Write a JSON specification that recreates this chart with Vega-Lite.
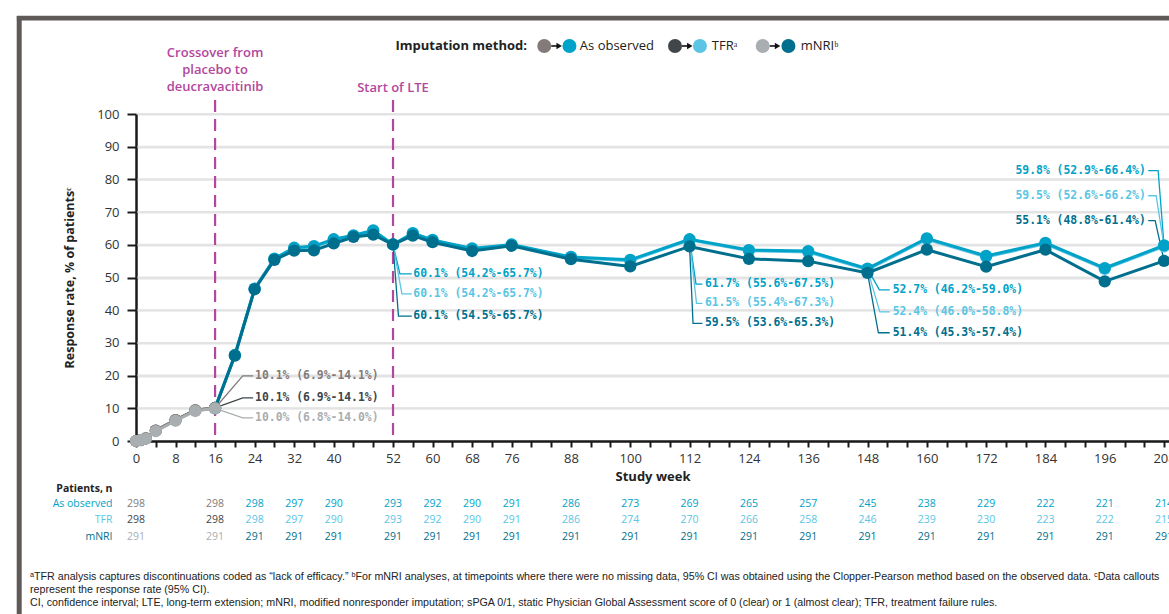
{
  "$schema": "https://vega.github.io/schema/vega-lite/v6.json",
  "width": 1033,
  "height": 327,
  "autosize": "none",
  "padding": {"left": 136, "top": 114, "right": 0, "bottom": 173},
  "config": {
    "font": "Open Sans",
    "view": {"stroke": null},
    "axisX": {"grid": false, "labelFlush": false, "labelOverlap": false, "labelBound": false, "tickSize": 6, "tickWidth": 2, "tickColor": "#1a1a1a", "domainColor": "#1a1a1a", "domainWidth": 2.5, "labelFontSize": 13, "labelColor": "#333333", "labelPadding": 5, "titleFontSize": 13, "titleFontWeight": "bold", "titleColor": "#222222", "titlePadding": 5},
    "axisY": {"grid": true, "gridColor": "#e3e3e3", "gridWidth": 2, "labelOverlap": false, "labelBound": false, "labelFlush": false, "tickSize": 9, "tickWidth": 2, "tickColor": "#1a1a1a", "domainColor": "#1a1a1a", "domainWidth": 2.5, "labelFontSize": 13, "labelColor": "#333333", "labelPadding": 8, "titleFontSize": 12.5, "titleFontWeight": "bold", "titleColor": "#222222", "titlePadding": 20}
  },
  "datasets": {
    "gridlines": [{"rate": 10}, {"rate": 20}, {"rate": 30}, {"rate": 40}, {"rate": 50}, {"rate": 60}, {"rate": 70}, {"rate": 80}, {"rate": 90}, {"rate": 100}],
    "series": [
      {"week": 0, "rate": 0, "key": "AO-pbo"}, {"week": 1, "rate": 0.3, "key": "AO-pbo"}, {"week": 2, "rate": 0.8, "key": "AO-pbo"}, {"week": 4, "rate": 3.2, "key": "AO-pbo"}, {"week": 8, "rate": 6.4, "key": "AO-pbo"}, {"week": 12, "rate": 9.4, "key": "AO-pbo"}, {"week": 16, "rate": 10.1, "key": "AO-pbo"},
      {"week": 0, "rate": 0, "key": "TFR-pbo"}, {"week": 1, "rate": 0.3, "key": "TFR-pbo"}, {"week": 2, "rate": 0.8, "key": "TFR-pbo"}, {"week": 4, "rate": 3.2, "key": "TFR-pbo"}, {"week": 8, "rate": 6.4, "key": "TFR-pbo"}, {"week": 12, "rate": 9.4, "key": "TFR-pbo"}, {"week": 16, "rate": 10.1, "key": "TFR-pbo"},
      {"week": 0, "rate": 0, "key": "mNRI-pbo"}, {"week": 1, "rate": 0.3, "key": "mNRI-pbo"}, {"week": 2, "rate": 0.7, "key": "mNRI-pbo"}, {"week": 4, "rate": 3.0, "key": "mNRI-pbo"}, {"week": 8, "rate": 6.2, "key": "mNRI-pbo"}, {"week": 12, "rate": 9.2, "key": "mNRI-pbo"}, {"week": 16, "rate": 10.0, "key": "mNRI-pbo"},
      {"week": 16, "rate": 10.1, "key": "AO"}, {"week": 20, "rate": 26.3, "key": "AO"}, {"week": 24, "rate": 46.6, "key": "AO"}, {"week": 28, "rate": 55.8, "key": "AO"}, {"week": 32, "rate": 59.1, "key": "AO"}, {"week": 36, "rate": 59.6, "key": "AO"}, {"week": 40, "rate": 61.7, "key": "AO"}, {"week": 44, "rate": 62.9, "key": "AO"}, {"week": 48, "rate": 64.4, "key": "AO"}, {"week": 52, "rate": 60.1, "key": "AO"}, {"week": 56, "rate": 63.6, "key": "AO"}, {"week": 60, "rate": 61.5, "key": "AO"}, {"week": 68, "rate": 58.9, "key": "AO"}, {"week": 76, "rate": 60.1, "key": "AO"}, {"week": 88, "rate": 56.3, "key": "AO"}, {"week": 100, "rate": 55.4, "key": "AO"}, {"week": 112, "rate": 61.7, "key": "AO"}, {"week": 124, "rate": 58.4, "key": "AO"}, {"week": 136, "rate": 58.1, "key": "AO"}, {"week": 148, "rate": 52.7, "key": "AO"}, {"week": 160, "rate": 62.0, "key": "AO"}, {"week": 172, "rate": 56.6, "key": "AO"}, {"week": 184, "rate": 60.6, "key": "AO"}, {"week": 196, "rate": 52.9, "key": "AO"}, {"week": 208, "rate": 59.8, "key": "AO"},
      {"week": 16, "rate": 10.1, "key": "TFR"}, {"week": 20, "rate": 26.2, "key": "TFR"}, {"week": 24, "rate": 46.5, "key": "TFR"}, {"week": 28, "rate": 55.6, "key": "TFR"}, {"week": 32, "rate": 58.9, "key": "TFR"}, {"week": 36, "rate": 59.4, "key": "TFR"}, {"week": 40, "rate": 61.5, "key": "TFR"}, {"week": 44, "rate": 62.7, "key": "TFR"}, {"week": 48, "rate": 64.2, "key": "TFR"}, {"week": 52, "rate": 60.1, "key": "TFR"}, {"week": 56, "rate": 63.4, "key": "TFR"}, {"week": 60, "rate": 61.3, "key": "TFR"}, {"week": 68, "rate": 58.7, "key": "TFR"}, {"week": 76, "rate": 59.9, "key": "TFR"}, {"week": 88, "rate": 56.1, "key": "TFR"}, {"week": 100, "rate": 55.1, "key": "TFR"}, {"week": 112, "rate": 61.5, "key": "TFR"}, {"week": 124, "rate": 58.2, "key": "TFR"}, {"week": 136, "rate": 57.8, "key": "TFR"}, {"week": 148, "rate": 52.4, "key": "TFR"}, {"week": 160, "rate": 61.7, "key": "TFR"}, {"week": 172, "rate": 56.3, "key": "TFR"}, {"week": 184, "rate": 60.3, "key": "TFR"}, {"week": 196, "rate": 52.6, "key": "TFR"}, {"week": 208, "rate": 59.5, "key": "TFR"},
      {"week": 16, "rate": 10.0, "key": "mNRI"}, {"week": 20, "rate": 26.1, "key": "mNRI"}, {"week": 24, "rate": 46.4, "key": "mNRI"}, {"week": 28, "rate": 55.4, "key": "mNRI"}, {"week": 32, "rate": 58.2, "key": "mNRI"}, {"week": 36, "rate": 58.3, "key": "mNRI"}, {"week": 40, "rate": 60.4, "key": "mNRI"}, {"week": 44, "rate": 62.4, "key": "mNRI"}, {"week": 48, "rate": 63.1, "key": "mNRI"}, {"week": 52, "rate": 60.1, "key": "mNRI"}, {"week": 56, "rate": 62.8, "key": "mNRI"}, {"week": 60, "rate": 60.8, "key": "mNRI"}, {"week": 68, "rate": 58.1, "key": "mNRI"}, {"week": 76, "rate": 59.7, "key": "mNRI"}, {"week": 88, "rate": 55.6, "key": "mNRI"}, {"week": 100, "rate": 53.4, "key": "mNRI"}, {"week": 112, "rate": 59.5, "key": "mNRI"}, {"week": 124, "rate": 55.7, "key": "mNRI"}, {"week": 136, "rate": 55.0, "key": "mNRI"}, {"week": 148, "rate": 51.4, "key": "mNRI"}, {"week": 160, "rate": 58.5, "key": "mNRI"}, {"week": 172, "rate": 53.3, "key": "mNRI"}, {"week": 184, "rate": 58.5, "key": "mNRI"}, {"week": 196, "rate": 48.8, "key": "mNRI"}, {"week": 208, "rate": 55.1, "key": "mNRI"}
    ],
    "leaders": [
      {"id": "c16a", "ord": 0, "week": 16, "rate": 10.1, "key": "AO-pbo"}, {"id": "c16a", "ord": 1, "week": 21.6, "rate": 19.9, "key": "AO-pbo"}, {"id": "c16a", "ord": 2, "week": 23.7, "rate": 19.9, "key": "AO-pbo"},
      {"id": "c16t", "ord": 0, "week": 16, "rate": 10.1, "key": "TFR-pbo"}, {"id": "c16t", "ord": 1, "week": 21.6, "rate": 13.2, "key": "TFR-pbo"}, {"id": "c16t", "ord": 2, "week": 23.7, "rate": 13.2, "key": "TFR-pbo"},
      {"id": "c16m", "ord": 0, "week": 16, "rate": 10.0, "key": "mNRI-pbo"}, {"id": "c16m", "ord": 1, "week": 21.6, "rate": 7.1, "key": "mNRI-pbo"}, {"id": "c16m", "ord": 2, "week": 23.7, "rate": 7.1, "key": "mNRI-pbo"},
      {"id": "c52a", "ord": 0, "week": 52, "rate": 60.1, "key": "AO"}, {"id": "c52a", "ord": 1, "week": 53.4, "rate": 51.1, "key": "AO"}, {"id": "c52a", "ord": 2, "week": 55.8, "rate": 51.1, "key": "AO"},
      {"id": "c52t", "ord": 0, "week": 52, "rate": 60.1, "key": "TFR"}, {"id": "c52t", "ord": 1, "week": 53.8, "rate": 45.0, "key": "TFR"}, {"id": "c52t", "ord": 2, "week": 55.8, "rate": 45.0, "key": "TFR"},
      {"id": "c52m", "ord": 0, "week": 52, "rate": 60.1, "key": "mNRI"}, {"id": "c52m", "ord": 1, "week": 53.1, "rate": 38.2, "key": "mNRI"}, {"id": "c52m", "ord": 2, "week": 55.8, "rate": 38.2, "key": "mNRI"},
      {"id": "c112a", "ord": 0, "week": 112, "rate": 61.7, "key": "AO"}, {"id": "c112a", "ord": 1, "week": 113.3, "rate": 48.0, "key": "AO"}, {"id": "c112a", "ord": 2, "week": 114.6, "rate": 48.0, "key": "AO"},
      {"id": "c112t", "ord": 0, "week": 112, "rate": 61.5, "key": "TFR"}, {"id": "c112t", "ord": 1, "week": 113.4, "rate": 42.1, "key": "TFR"}, {"id": "c112t", "ord": 2, "week": 114.6, "rate": 42.1, "key": "TFR"},
      {"id": "c112m", "ord": 0, "week": 112, "rate": 59.5, "key": "mNRI"}, {"id": "c112m", "ord": 1, "week": 112.7, "rate": 36.0, "key": "mNRI"}, {"id": "c112m", "ord": 2, "week": 114.6, "rate": 36.0, "key": "mNRI"},
      {"id": "c148a", "ord": 0, "week": 148, "rate": 52.7, "key": "AO"}, {"id": "c148a", "ord": 1, "week": 150.4, "rate": 46.2, "key": "AO"}, {"id": "c148a", "ord": 2, "week": 152.5, "rate": 46.2, "key": "AO"},
      {"id": "c148t", "ord": 0, "week": 148, "rate": 52.4, "key": "TFR"}, {"id": "c148t", "ord": 1, "week": 150.5, "rate": 39.5, "key": "TFR"}, {"id": "c148t", "ord": 2, "week": 152.5, "rate": 39.5, "key": "TFR"},
      {"id": "c148m", "ord": 0, "week": 148, "rate": 51.4, "key": "mNRI"}, {"id": "c148m", "ord": 1, "week": 150.2, "rate": 33.1, "key": "mNRI"}, {"id": "c148m", "ord": 2, "week": 152.5, "rate": 33.1, "key": "mNRI"},
      {"id": "c208a", "ord": 0, "week": 204.8, "rate": 82.7, "key": "AO"}, {"id": "c208a", "ord": 1, "week": 206.8, "rate": 82.7, "key": "AO"}, {"id": "c208a", "ord": 2, "week": 208, "rate": 59.8, "key": "AO"},
      {"id": "c208t", "ord": 0, "week": 204.8, "rate": 75.0, "key": "TFR"}, {"id": "c208t", "ord": 1, "week": 206.4, "rate": 75.0, "key": "TFR"}, {"id": "c208t", "ord": 2, "week": 208, "rate": 59.5, "key": "TFR"},
      {"id": "c208m", "ord": 0, "week": 204.8, "rate": 67.4, "key": "mNRI"}, {"id": "c208m", "ord": 1, "week": 206.2, "rate": 67.4, "key": "mNRI"}, {"id": "c208m", "ord": 2, "week": 208, "rate": 55.1, "key": "mNRI"}
    ],
    "callouts": [
      {"week": 24.1, "rate": 19.9, "label": "10.1% (6.9%-14.1%)", "key": "AO-pbo", "side": "L"},
      {"week": 24.1, "rate": 13.2, "label": "10.1% (6.9%-14.1%)", "key": "TFR-pbo", "side": "L"},
      {"week": 24.1, "rate": 7.1, "label": "10.0% (6.8%-14.0%)", "key": "mNRI-pbo", "side": "L"},
      {"week": 56.1, "rate": 51.1, "label": "60.1% (54.2%-65.7%)", "key": "AO", "side": "L"},
      {"week": 56.1, "rate": 45.0, "label": "60.1% (54.2%-65.7%)", "key": "TFR", "side": "L"},
      {"week": 56.1, "rate": 38.2, "label": "60.1% (54.5%-65.7%)", "key": "mNRI", "side": "L"},
      {"week": 115.1, "rate": 48.0, "label": "61.7% (55.6%-67.5%)", "key": "AO", "side": "L"},
      {"week": 115.1, "rate": 42.1, "label": "61.5% (55.4%-67.3%)", "key": "TFR", "side": "L"},
      {"week": 115.1, "rate": 36.0, "label": "59.5% (53.6%-65.3%)", "key": "mNRI", "side": "L"},
      {"week": 153.1, "rate": 46.2, "label": "52.7% (46.2%-59.0%)", "key": "AO", "side": "L"},
      {"week": 153.1, "rate": 39.5, "label": "52.4% (46.0%-58.8%)", "key": "TFR", "side": "L"},
      {"week": 153.1, "rate": 33.1, "label": "51.4% (45.3%-57.4%)", "key": "mNRI", "side": "L"},
      {"week": 204.3, "rate": 82.7, "label": "59.8% (52.9%-66.4%)", "key": "AO", "side": "R"},
      {"week": 204.3, "rate": 75.0, "label": "59.5% (52.6%-66.2%)", "key": "TFR", "side": "R"},
      {"week": 204.3, "rate": 67.4, "label": "55.1% (48.8%-61.4%)", "key": "mNRI", "side": "R"}
    ],
    "phases": [{"week": 16}, {"week": 52}],
    "legendDots": [
      {"week": 82.6, "key": "AO-pbo"}, {"week": 87.7, "key": "AO"},
      {"week": 109.05, "key": "TFR-pbo"}, {"week": 114.1, "key": "TFR"},
      {"week": 126.8, "key": "mNRI-pbo"}, {"week": 132.0, "key": "mNRI"}
    ],
    "legendArrows": [
      {"x0": 84.0, "x1": 85.2, "xh": 85.62},
      {"x0": 110.45, "x1": 111.6, "xh": 112.05},
      {"x0": 128.2, "x1": 129.35, "xh": 129.8}
    ],
    "legendText": [
      {"week": 89.8, "label": "As observed"},
      {"week": 116.5, "label": "TFRᵃ"},
      {"week": 134.5, "label": "mNRIᵇ"}
    ],
    "table": [
      {"week": 0, "method": "AO", "n": 298, "key": "AO-pbo"}, {"week": 16, "method": "AO", "n": 298, "key": "AO-pbo"}, {"week": 24, "method": "AO", "n": 298, "key": "AO"}, {"week": 32, "method": "AO", "n": 297, "key": "AO"}, {"week": 40, "method": "AO", "n": 290, "key": "AO"}, {"week": 52, "method": "AO", "n": 293, "key": "AO"}, {"week": 60, "method": "AO", "n": 292, "key": "AO"}, {"week": 68, "method": "AO", "n": 290, "key": "AO"}, {"week": 76, "method": "AO", "n": 291, "key": "AO"}, {"week": 88, "method": "AO", "n": 286, "key": "AO"}, {"week": 100, "method": "AO", "n": 273, "key": "AO"}, {"week": 112, "method": "AO", "n": 269, "key": "AO"}, {"week": 124, "method": "AO", "n": 265, "key": "AO"}, {"week": 136, "method": "AO", "n": 257, "key": "AO"}, {"week": 148, "method": "AO", "n": 245, "key": "AO"}, {"week": 160, "method": "AO", "n": 238, "key": "AO"}, {"week": 172, "method": "AO", "n": 229, "key": "AO"}, {"week": 184, "method": "AO", "n": 222, "key": "AO"}, {"week": 196, "method": "AO", "n": 221, "key": "AO"}, {"week": 208, "method": "AO", "n": 214, "key": "AO"},
      {"week": 0, "method": "TFR", "n": 298, "key": "TFR-pbo"}, {"week": 16, "method": "TFR", "n": 298, "key": "TFR-pbo"}, {"week": 24, "method": "TFR", "n": 298, "key": "TFR"}, {"week": 32, "method": "TFR", "n": 297, "key": "TFR"}, {"week": 40, "method": "TFR", "n": 290, "key": "TFR"}, {"week": 52, "method": "TFR", "n": 293, "key": "TFR"}, {"week": 60, "method": "TFR", "n": 292, "key": "TFR"}, {"week": 68, "method": "TFR", "n": 290, "key": "TFR"}, {"week": 76, "method": "TFR", "n": 291, "key": "TFR"}, {"week": 88, "method": "TFR", "n": 286, "key": "TFR"}, {"week": 100, "method": "TFR", "n": 274, "key": "TFR"}, {"week": 112, "method": "TFR", "n": 270, "key": "TFR"}, {"week": 124, "method": "TFR", "n": 266, "key": "TFR"}, {"week": 136, "method": "TFR", "n": 258, "key": "TFR"}, {"week": 148, "method": "TFR", "n": 246, "key": "TFR"}, {"week": 160, "method": "TFR", "n": 239, "key": "TFR"}, {"week": 172, "method": "TFR", "n": 230, "key": "TFR"}, {"week": 184, "method": "TFR", "n": 223, "key": "TFR"}, {"week": 196, "method": "TFR", "n": 222, "key": "TFR"}, {"week": 208, "method": "TFR", "n": 215, "key": "TFR"},
      {"week": 0, "method": "mNRI", "n": 291, "key": "mNRI-pbo"}, {"week": 16, "method": "mNRI", "n": 291, "key": "mNRI-pbo"}, {"week": 24, "method": "mNRI", "n": 291, "key": "mNRI"}, {"week": 32, "method": "mNRI", "n": 291, "key": "mNRI"}, {"week": 40, "method": "mNRI", "n": 291, "key": "mNRI"}, {"week": 52, "method": "mNRI", "n": 291, "key": "mNRI"}, {"week": 60, "method": "mNRI", "n": 291, "key": "mNRI"}, {"week": 68, "method": "mNRI", "n": 291, "key": "mNRI"}, {"week": 76, "method": "mNRI", "n": 291, "key": "mNRI"}, {"week": 88, "method": "mNRI", "n": 291, "key": "mNRI"}, {"week": 100, "method": "mNRI", "n": 291, "key": "mNRI"}, {"week": 112, "method": "mNRI", "n": 291, "key": "mNRI"}, {"week": 124, "method": "mNRI", "n": 291, "key": "mNRI"}, {"week": 136, "method": "mNRI", "n": 291, "key": "mNRI"}, {"week": 148, "method": "mNRI", "n": 291, "key": "mNRI"}, {"week": 160, "method": "mNRI", "n": 291, "key": "mNRI"}, {"week": 172, "method": "mNRI", "n": 291, "key": "mNRI"}, {"week": 184, "method": "mNRI", "n": 291, "key": "mNRI"}, {"week": 196, "method": "mNRI", "n": 291, "key": "mNRI"}, {"week": 208, "method": "mNRI", "n": 291, "key": "mNRI"}
    ]
  },
  "layer": [
    {"data": {"values": [{}]}, "mark": {"type": "rule", "color": "#5f5957", "strokeWidth": 5},
     "encoding": {"x": {"datum": -23.63, "type": "quantitative", "scale": {"domain": [0, 209], "nice": false, "zero": false}, "axis": {"title": "Study week", "grid": false, "values": [0,4,8,12,16,20,24,28,32,36,40,44,48,52,56,60,64,68,72,76,80,84,88,92,96,100,104,108,112,116,120,124,128,132,136,140,144,148,152,156,160,164,168,172,176,180,184,188,192,196,200,204,208], "labelExpr": "indexof([0,8,16,24,32,40,52,60,68,76,88,100,112,124,136,148,160,172,184,196,208], datum.value) >= 0 ? datum.label : ''"}},
       "y": {"datum": 130.0, "type": "quantitative", "scale": {"domain": [0, 100], "nice": false, "zero": false}, "axis": {"title": "Response rate, % of patientsᶜ", "grid": true, "values": [0,10,20,30,40,50,60,70,80,90,100]}}, "y2": {"datum": -60}}},
    {"data": {"values": [{}]}, "mark": {"type": "rule", "color": "#5f5957", "strokeWidth": 4.7},
     "encoding": {"x": {"datum": -24.1, "type": "quantitative", "axis": {"title": "Study week", "grid": false, "values": [0,4,8,12,16,20,24,28,32,36,40,44,48,52,56,60,64,68,72,76,80,84,88,92,96,100,104,108,112,116,120,124,128,132,136,140,144,148,152,156,160,164,168,172,176,180,184,188,192,196,200,204,208], "labelExpr": "indexof([0,8,16,24,32,40,52,60,68,76,88,100,112,124,136,148,160,172,184,196,208], datum.value) >= 0 ? datum.label : ''"}}, "x2": {"datum": 215},
       "y": {"datum": 129.3, "type": "quantitative", "axis": {"title": "Response rate, % of patientsᶜ", "grid": true, "values": [0,10,20,30,40,50,60,70,80,90,100]}}}},
    {"data": {"name": "gridlines"}, "mark": {"type": "rule", "color": "#e3e3e3", "strokeWidth": 2},
     "encoding": {"x": {"datum": 0.3, "type": "quantitative", "axis": {"title": "Study week", "grid": false, "values": [0,4,8,12,16,20,24,28,32,36,40,44,48,52,56,60,64,68,72,76,80,84,88,92,96,100,104,108,112,116,120,124,128,132,136,140,144,148,152,156,160,164,168,172,176,180,184,188,192,196,200,204,208], "labelExpr": "indexof([0,8,16,24,32,40,52,60,68,76,88,100,112,124,136,148,160,172,184,196,208], datum.value) >= 0 ? datum.label : ''"}}, "x2": {"datum": 209},
       "y": {"field": "rate", "type": "quantitative", "axis": {"title": "Response rate, % of patientsᶜ", "grid": true, "values": [0,10,20,30,40,50,60,70,80,90,100]}}}},
    {"data": {"name": "phases"}, "mark": {"type": "rule", "color": "#b2479d", "strokeWidth": 2.2, "strokeDash": [12, 7]},
     "encoding": {"x": {"field": "week", "type": "quantitative", "axis": {"title": "Study week", "grid": false, "values": [0,4,8,12,16,20,24,28,32,36,40,44,48,52,56,60,64,68,72,76,80,84,88,92,96,100,104,108,112,116,120,124,128,132,136,140,144,148,152,156,160,164,168,172,176,180,184,188,192,196,200,204,208], "labelExpr": "indexof([0,8,16,24,32,40,52,60,68,76,88,100,112,124,136,148,160,172,184,196,208], datum.value) >= 0 ? datum.label : ''"}},
       "y": {"datum": 104.3, "type": "quantitative", "axis": {"title": "Response rate, % of patientsᶜ", "grid": true, "values": [0,10,20,30,40,50,60,70,80,90,100]}}, "y2": {"datum": 0}}},
    {"data": {"name": "leaders"}, "mark": {"type": "line", "strokeWidth": 1.3},
     "encoding": {"x": {"field": "week", "type": "quantitative", "axis": {"title": "Study week", "grid": false, "values": [0,4,8,12,16,20,24,28,32,36,40,44,48,52,56,60,64,68,72,76,80,84,88,92,96,100,104,108,112,116,120,124,128,132,136,140,144,148,152,156,160,164,168,172,176,180,184,188,192,196,200,204,208], "labelExpr": "indexof([0,8,16,24,32,40,52,60,68,76,88,100,112,124,136,148,160,172,184,196,208], datum.value) >= 0 ? datum.label : ''"}},
       "y": {"field": "rate", "type": "quantitative", "axis": {"title": "Response rate, % of patientsᶜ", "grid": true, "values": [0,10,20,30,40,50,60,70,80,90,100]}}, "detail": {"field": "id"}, "order": {"field": "ord"},
       "color": {"field": "key", "type": "nominal", "legend": null, "scale": {"domain": ["AO-pbo", "TFR-pbo", "mNRI-pbo", "AO", "TFR", "mNRI"], "range": ["#827b79", "#40464a", "#a9aeb1", "#00a2c7", "#5bc5e3", "#006f8e"]}}}},
    {"data": {"name": "series"}, "transform": [{"filter": "datum.key === 'TFR'"}],
     "mark": {"type": "line", "strokeWidth": 3, "color": "#5bc5e3", "point": {"filled": true, "size": 150, "opacity": 1, "color": "#5bc5e3"}},
     "encoding": {"x": {"field": "week", "type": "quantitative", "axis": {"title": "Study week", "grid": false, "values": [0,4,8,12,16,20,24,28,32,36,40,44,48,52,56,60,64,68,72,76,80,84,88,92,96,100,104,108,112,116,120,124,128,132,136,140,144,148,152,156,160,164,168,172,176,180,184,188,192,196,200,204,208], "labelExpr": "indexof([0,8,16,24,32,40,52,60,68,76,88,100,112,124,136,148,160,172,184,196,208], datum.value) >= 0 ? datum.label : ''"}},
       "y": {"field": "rate", "type": "quantitative", "axis": {"title": "Response rate, % of patientsᶜ", "grid": true, "values": [0,10,20,30,40,50,60,70,80,90,100]}}}},
    {"data": {"name": "series"}, "transform": [{"filter": "datum.key === 'AO'"}],
     "mark": {"type": "line", "strokeWidth": 3, "color": "#00a2c7", "point": {"filled": true, "size": 150, "opacity": 1, "color": "#00a2c7"}},
     "encoding": {"x": {"field": "week", "type": "quantitative", "axis": {"title": "Study week", "grid": false, "values": [0,4,8,12,16,20,24,28,32,36,40,44,48,52,56,60,64,68,72,76,80,84,88,92,96,100,104,108,112,116,120,124,128,132,136,140,144,148,152,156,160,164,168,172,176,180,184,188,192,196,200,204,208], "labelExpr": "indexof([0,8,16,24,32,40,52,60,68,76,88,100,112,124,136,148,160,172,184,196,208], datum.value) >= 0 ? datum.label : ''"}},
       "y": {"field": "rate", "type": "quantitative", "axis": {"title": "Response rate, % of patientsᶜ", "grid": true, "values": [0,10,20,30,40,50,60,70,80,90,100]}}}},
    {"data": {"name": "series"}, "transform": [{"filter": "datum.key === 'mNRI'"}],
     "mark": {"type": "line", "strokeWidth": 3, "color": "#006f8e", "point": {"filled": true, "size": 150, "opacity": 1, "color": "#006f8e"}},
     "encoding": {"x": {"field": "week", "type": "quantitative", "axis": {"title": "Study week", "grid": false, "values": [0,4,8,12,16,20,24,28,32,36,40,44,48,52,56,60,64,68,72,76,80,84,88,92,96,100,104,108,112,116,120,124,128,132,136,140,144,148,152,156,160,164,168,172,176,180,184,188,192,196,200,204,208], "labelExpr": "indexof([0,8,16,24,32,40,52,60,68,76,88,100,112,124,136,148,160,172,184,196,208], datum.value) >= 0 ? datum.label : ''"}},
       "y": {"field": "rate", "type": "quantitative", "axis": {"title": "Response rate, % of patientsᶜ", "grid": true, "values": [0,10,20,30,40,50,60,70,80,90,100]}}}},
    {"data": {"name": "series"}, "transform": [{"filter": "datum.key === 'TFR-pbo'"}],
     "mark": {"type": "line", "strokeWidth": 3, "color": "#40464a", "point": {"filled": true, "size": 150, "opacity": 1, "color": "#40464a"}},
     "encoding": {"x": {"field": "week", "type": "quantitative", "axis": {"title": "Study week", "grid": false, "values": [0,4,8,12,16,20,24,28,32,36,40,44,48,52,56,60,64,68,72,76,80,84,88,92,96,100,104,108,112,116,120,124,128,132,136,140,144,148,152,156,160,164,168,172,176,180,184,188,192,196,200,204,208], "labelExpr": "indexof([0,8,16,24,32,40,52,60,68,76,88,100,112,124,136,148,160,172,184,196,208], datum.value) >= 0 ? datum.label : ''"}},
       "y": {"field": "rate", "type": "quantitative", "axis": {"title": "Response rate, % of patientsᶜ", "grid": true, "values": [0,10,20,30,40,50,60,70,80,90,100]}}}},
    {"data": {"name": "series"}, "transform": [{"filter": "datum.key === 'AO-pbo'"}],
     "mark": {"type": "line", "strokeWidth": 3, "color": "#827b79", "point": {"filled": true, "size": 150, "opacity": 1, "color": "#827b79"}},
     "encoding": {"x": {"field": "week", "type": "quantitative", "axis": {"title": "Study week", "grid": false, "values": [0,4,8,12,16,20,24,28,32,36,40,44,48,52,56,60,64,68,72,76,80,84,88,92,96,100,104,108,112,116,120,124,128,132,136,140,144,148,152,156,160,164,168,172,176,180,184,188,192,196,200,204,208], "labelExpr": "indexof([0,8,16,24,32,40,52,60,68,76,88,100,112,124,136,148,160,172,184,196,208], datum.value) >= 0 ? datum.label : ''"}},
       "y": {"field": "rate", "type": "quantitative", "axis": {"title": "Response rate, % of patientsᶜ", "grid": true, "values": [0,10,20,30,40,50,60,70,80,90,100]}}}},
    {"data": {"name": "series"}, "transform": [{"filter": "datum.key === 'mNRI-pbo'"}],
     "mark": {"type": "line", "strokeWidth": 3, "color": "#a9aeb1", "point": {"filled": true, "size": 150, "opacity": 1, "color": "#a9aeb1"}},
     "encoding": {"x": {"field": "week", "type": "quantitative", "axis": {"title": "Study week", "grid": false, "values": [0,4,8,12,16,20,24,28,32,36,40,44,48,52,56,60,64,68,72,76,80,84,88,92,96,100,104,108,112,116,120,124,128,132,136,140,144,148,152,156,160,164,168,172,176,180,184,188,192,196,200,204,208], "labelExpr": "indexof([0,8,16,24,32,40,52,60,68,76,88,100,112,124,136,148,160,172,184,196,208], datum.value) >= 0 ? datum.label : ''"}},
       "y": {"field": "rate", "type": "quantitative", "axis": {"title": "Response rate, % of patientsᶜ", "grid": true, "values": [0,10,20,30,40,50,60,70,80,90,100]}}}},
    {"data": {"name": "callouts"}, "transform": [{"filter": "datum.side === 'L'"}],
     "mark": {"type": "text", "align": "left", "baseline": "middle", "font": "DejaVu Sans Mono", "fontWeight": "bold", "fontSize": 11.4},
     "encoding": {"x": {"field": "week", "type": "quantitative", "axis": {"title": "Study week", "grid": false, "values": [0,4,8,12,16,20,24,28,32,36,40,44,48,52,56,60,64,68,72,76,80,84,88,92,96,100,104,108,112,116,120,124,128,132,136,140,144,148,152,156,160,164,168,172,176,180,184,188,192,196,200,204,208], "labelExpr": "indexof([0,8,16,24,32,40,52,60,68,76,88,100,112,124,136,148,160,172,184,196,208], datum.value) >= 0 ? datum.label : ''"}},
       "y": {"field": "rate", "type": "quantitative", "axis": {"title": "Response rate, % of patientsᶜ", "grid": true, "values": [0,10,20,30,40,50,60,70,80,90,100]}}, "text": {"field": "label"},
       "color": {"field": "key", "type": "nominal", "legend": null, "scale": {"domain": ["AO-pbo", "TFR-pbo", "mNRI-pbo", "AO", "TFR", "mNRI"], "range": ["#827b79", "#40464a", "#a9aeb1", "#00a2c7", "#5bc5e3", "#006f8e"]}}}},
    {"data": {"name": "callouts"}, "transform": [{"filter": "datum.side === 'R'"}],
     "mark": {"type": "text", "align": "right", "baseline": "middle", "font": "DejaVu Sans Mono", "fontWeight": "bold", "fontSize": 11.4},
     "encoding": {"x": {"field": "week", "type": "quantitative", "axis": {"title": "Study week", "grid": false, "values": [0,4,8,12,16,20,24,28,32,36,40,44,48,52,56,60,64,68,72,76,80,84,88,92,96,100,104,108,112,116,120,124,128,132,136,140,144,148,152,156,160,164,168,172,176,180,184,188,192,196,200,204,208], "labelExpr": "indexof([0,8,16,24,32,40,52,60,68,76,88,100,112,124,136,148,160,172,184,196,208], datum.value) >= 0 ? datum.label : ''"}},
       "y": {"field": "rate", "type": "quantitative", "axis": {"title": "Response rate, % of patientsᶜ", "grid": true, "values": [0,10,20,30,40,50,60,70,80,90,100]}}, "text": {"field": "label"},
       "color": {"field": "key", "type": "nominal", "legend": null, "scale": {"domain": ["AO-pbo", "TFR-pbo", "mNRI-pbo", "AO", "TFR", "mNRI"], "range": ["#827b79", "#40464a", "#a9aeb1", "#00a2c7", "#5bc5e3", "#006f8e"]}}}},
    {"data": {"values": [{}]}, "mark": {"type": "text", "text": ["Crossover from", "placebo to", "deucravacitinib"], "align": "center", "baseline": "middle", "lineHeight": 17, "fontSize": 13, "fontWeight": 600, "color": "#b2479d"},
     "encoding": {"x": {"datum": 16, "type": "quantitative", "axis": {"title": "Study week", "grid": false, "values": [0,4,8,12,16,20,24,28,32,36,40,44,48,52,56,60,64,68,72,76,80,84,88,92,96,100,104,108,112,116,120,124,128,132,136,140,144,148,152,156,160,164,168,172,176,180,184,188,192,196,200,204,208], "labelExpr": "indexof([0,8,16,24,32,40,52,60,68,76,88,100,112,124,136,148,160,172,184,196,208], datum.value) >= 0 ? datum.label : ''"}},
       "y": {"datum": 118.75, "type": "quantitative", "axis": {"title": "Response rate, % of patientsᶜ", "grid": true, "values": [0,10,20,30,40,50,60,70,80,90,100]}}}},
    {"data": {"values": [{}]}, "mark": {"type": "text", "text": "Start of LTE", "align": "center", "baseline": "middle", "fontSize": 13, "fontWeight": 600, "color": "#b2479d"},
     "encoding": {"x": {"datum": 52, "type": "quantitative", "axis": {"title": "Study week", "grid": false, "values": [0,4,8,12,16,20,24,28,32,36,40,44,48,52,56,60,64,68,72,76,80,84,88,92,96,100,104,108,112,116,120,124,128,132,136,140,144,148,152,156,160,164,168,172,176,180,184,188,192,196,200,204,208], "labelExpr": "indexof([0,8,16,24,32,40,52,60,68,76,88,100,112,124,136,148,160,172,184,196,208], datum.value) >= 0 ? datum.label : ''"}},
       "y": {"datum": 107.95, "type": "quantitative", "axis": {"title": "Response rate, % of patientsᶜ", "grid": true, "values": [0,10,20,30,40,50,60,70,80,90,100]}}}},
    {"data": {"values": [{}]}, "mark": {"type": "text", "text": "Imputation method:", "align": "right", "baseline": "middle", "fontSize": 13, "fontWeight": "bold", "color": "#222222"},
     "encoding": {"x": {"datum": 79.1, "type": "quantitative", "axis": {"title": "Study week", "grid": false, "values": [0,4,8,12,16,20,24,28,32,36,40,44,48,52,56,60,64,68,72,76,80,84,88,92,96,100,104,108,112,116,120,124,128,132,136,140,144,148,152,156,160,164,168,172,176,180,184,188,192,196,200,204,208], "labelExpr": "indexof([0,8,16,24,32,40,52,60,68,76,88,100,112,124,136,148,160,172,184,196,208], datum.value) >= 0 ? datum.label : ''"}},
       "y": {"datum": 120.8, "type": "quantitative", "axis": {"title": "Response rate, % of patientsᶜ", "grid": true, "values": [0,10,20,30,40,50,60,70,80,90,100]}}}},
    {"data": {"name": "legendArrows"}, "mark": {"type": "rule", "color": "#111111", "strokeWidth": 1.6},
     "encoding": {"x": {"field": "x0", "type": "quantitative", "axis": {"title": "Study week", "grid": false, "values": [0,4,8,12,16,20,24,28,32,36,40,44,48,52,56,60,64,68,72,76,80,84,88,92,96,100,104,108,112,116,120,124,128,132,136,140,144,148,152,156,160,164,168,172,176,180,184,188,192,196,200,204,208], "labelExpr": "indexof([0,8,16,24,32,40,52,60,68,76,88,100,112,124,136,148,160,172,184,196,208], datum.value) >= 0 ? datum.label : ''"}}, "x2": {"field": "x1"},
       "y": {"datum": 120.8, "type": "quantitative", "axis": {"title": "Response rate, % of patientsᶜ", "grid": true, "values": [0,10,20,30,40,50,60,70,80,90,100]}}}},
    {"data": {"name": "legendArrows"}, "mark": {"type": "point", "shape": "triangle-right", "filled": true, "size": 40, "color": "#111111", "opacity": 1},
     "encoding": {"x": {"field": "xh", "type": "quantitative", "axis": {"title": "Study week", "grid": false, "values": [0,4,8,12,16,20,24,28,32,36,40,44,48,52,56,60,64,68,72,76,80,84,88,92,96,100,104,108,112,116,120,124,128,132,136,140,144,148,152,156,160,164,168,172,176,180,184,188,192,196,200,204,208], "labelExpr": "indexof([0,8,16,24,32,40,52,60,68,76,88,100,112,124,136,148,160,172,184,196,208], datum.value) >= 0 ? datum.label : ''"}},
       "y": {"datum": 120.8, "type": "quantitative", "axis": {"title": "Response rate, % of patientsᶜ", "grid": true, "values": [0,10,20,30,40,50,60,70,80,90,100]}}}},
    {"data": {"name": "legendDots"}, "mark": {"type": "point", "filled": true, "size": 196, "opacity": 1},
     "encoding": {"x": {"field": "week", "type": "quantitative", "axis": {"title": "Study week", "grid": false, "values": [0,4,8,12,16,20,24,28,32,36,40,44,48,52,56,60,64,68,72,76,80,84,88,92,96,100,104,108,112,116,120,124,128,132,136,140,144,148,152,156,160,164,168,172,176,180,184,188,192,196,200,204,208], "labelExpr": "indexof([0,8,16,24,32,40,52,60,68,76,88,100,112,124,136,148,160,172,184,196,208], datum.value) >= 0 ? datum.label : ''"}},
       "y": {"datum": 120.8, "type": "quantitative", "axis": {"title": "Response rate, % of patientsᶜ", "grid": true, "values": [0,10,20,30,40,50,60,70,80,90,100]}},
       "color": {"field": "key", "type": "nominal", "legend": null, "scale": {"domain": ["AO-pbo", "TFR-pbo", "mNRI-pbo", "AO", "TFR", "mNRI"], "range": ["#827b79", "#40464a", "#a9aeb1", "#00a2c7", "#5bc5e3", "#006f8e"]}}}},
    {"data": {"name": "legendText"}, "mark": {"type": "text", "align": "left", "baseline": "middle", "fontSize": 13, "color": "#222222"},
     "encoding": {"x": {"field": "week", "type": "quantitative", "axis": {"title": "Study week", "grid": false, "values": [0,4,8,12,16,20,24,28,32,36,40,44,48,52,56,60,64,68,72,76,80,84,88,92,96,100,104,108,112,116,120,124,128,132,136,140,144,148,152,156,160,164,168,172,176,180,184,188,192,196,200,204,208], "labelExpr": "indexof([0,8,16,24,32,40,52,60,68,76,88,100,112,124,136,148,160,172,184,196,208], datum.value) >= 0 ? datum.label : ''"}},
       "y": {"datum": 120.8, "type": "quantitative", "axis": {"title": "Response rate, % of patientsᶜ", "grid": true, "values": [0,10,20,30,40,50,60,70,80,90,100]}}, "text": {"field": "label"}}},
    {"data": {"values": [{}]}, "mark": {"type": "text", "text": "Patients, n", "align": "right", "baseline": "middle", "fontSize": 10.5, "fontWeight": "bold", "color": "#222222"},
     "encoding": {"x": {"datum": -4.75, "type": "quantitative", "axis": {"title": "Study week", "grid": false, "values": [0,4,8,12,16,20,24,28,32,36,40,44,48,52,56,60,64,68,72,76,80,84,88,92,96,100,104,108,112,116,120,124,128,132,136,140,144,148,152,156,160,164,168,172,176,180,184,188,192,196,200,204,208], "labelExpr": "indexof([0,8,16,24,32,40,52,60,68,76,88,100,112,124,136,148,160,172,184,196,208], datum.value) >= 0 ? datum.label : ''"}},
       "y": {"datum": -14.68, "type": "quantitative", "axis": {"title": "Response rate, % of patientsᶜ", "grid": true, "values": [0,10,20,30,40,50,60,70,80,90,100]}}}},
    {"data": {"values": [{}]}, "mark": {"type": "text", "text": "As observed", "align": "right", "baseline": "middle", "fontSize": 10.5, "color": "#00a2c7"},
     "encoding": {"x": {"datum": -4.75, "type": "quantitative", "axis": {"title": "Study week", "grid": false, "values": [0,4,8,12,16,20,24,28,32,36,40,44,48,52,56,60,64,68,72,76,80,84,88,92,96,100,104,108,112,116,120,124,128,132,136,140,144,148,152,156,160,164,168,172,176,180,184,188,192,196,200,204,208], "labelExpr": "indexof([0,8,16,24,32,40,52,60,68,76,88,100,112,124,136,148,160,172,184,196,208], datum.value) >= 0 ? datum.label : ''"}},
       "y": {"datum": -19.27, "type": "quantitative", "axis": {"title": "Response rate, % of patientsᶜ", "grid": true, "values": [0,10,20,30,40,50,60,70,80,90,100]}}}},
    {"data": {"values": [{}]}, "mark": {"type": "text", "text": "TFR", "align": "right", "baseline": "middle", "fontSize": 10.5, "color": "#5bc5e3"},
     "encoding": {"x": {"datum": -4.75, "type": "quantitative", "axis": {"title": "Study week", "grid": false, "values": [0,4,8,12,16,20,24,28,32,36,40,44,48,52,56,60,64,68,72,76,80,84,88,92,96,100,104,108,112,116,120,124,128,132,136,140,144,148,152,156,160,164,168,172,176,180,184,188,192,196,200,204,208], "labelExpr": "indexof([0,8,16,24,32,40,52,60,68,76,88,100,112,124,136,148,160,172,184,196,208], datum.value) >= 0 ? datum.label : ''"}},
       "y": {"datum": -24.16, "type": "quantitative", "axis": {"title": "Response rate, % of patientsᶜ", "grid": true, "values": [0,10,20,30,40,50,60,70,80,90,100]}}}},
    {"data": {"values": [{}]}, "mark": {"type": "text", "text": "mNRI", "align": "right", "baseline": "middle", "fontSize": 10.5, "color": "#006f8e"},
     "encoding": {"x": {"datum": -4.75, "type": "quantitative", "axis": {"title": "Study week", "grid": false, "values": [0,4,8,12,16,20,24,28,32,36,40,44,48,52,56,60,64,68,72,76,80,84,88,92,96,100,104,108,112,116,120,124,128,132,136,140,144,148,152,156,160,164,168,172,176,180,184,188,192,196,200,204,208], "labelExpr": "indexof([0,8,16,24,32,40,52,60,68,76,88,100,112,124,136,148,160,172,184,196,208], datum.value) >= 0 ? datum.label : ''"}},
       "y": {"datum": -29.36, "type": "quantitative", "axis": {"title": "Response rate, % of patientsᶜ", "grid": true, "values": [0,10,20,30,40,50,60,70,80,90,100]}}}},
    {"data": {"name": "table"}, "transform": [{"filter": "datum.method === 'AO'"}],
     "mark": {"type": "text", "align": "center", "baseline": "middle", "fontSize": 10.5},
     "encoding": {"x": {"field": "week", "type": "quantitative", "axis": {"title": "Study week", "grid": false, "values": [0,4,8,12,16,20,24,28,32,36,40,44,48,52,56,60,64,68,72,76,80,84,88,92,96,100,104,108,112,116,120,124,128,132,136,140,144,148,152,156,160,164,168,172,176,180,184,188,192,196,200,204,208], "labelExpr": "indexof([0,8,16,24,32,40,52,60,68,76,88,100,112,124,136,148,160,172,184,196,208], datum.value) >= 0 ? datum.label : ''"}},
       "y": {"datum": -19.27, "type": "quantitative", "axis": {"title": "Response rate, % of patientsᶜ", "grid": true, "values": [0,10,20,30,40,50,60,70,80,90,100]}}, "text": {"field": "n"},
       "color": {"field": "key", "type": "nominal", "legend": null, "scale": {"domain": ["AO-pbo", "TFR-pbo", "mNRI-pbo", "AO", "TFR", "mNRI"], "range": ["#827b79", "#40464a", "#a9aeb1", "#00a2c7", "#5bc5e3", "#006f8e"]}}}},
    {"data": {"name": "table"}, "transform": [{"filter": "datum.method === 'TFR'"}],
     "mark": {"type": "text", "align": "center", "baseline": "middle", "fontSize": 10.5},
     "encoding": {"x": {"field": "week", "type": "quantitative", "axis": {"title": "Study week", "grid": false, "values": [0,4,8,12,16,20,24,28,32,36,40,44,48,52,56,60,64,68,72,76,80,84,88,92,96,100,104,108,112,116,120,124,128,132,136,140,144,148,152,156,160,164,168,172,176,180,184,188,192,196,200,204,208], "labelExpr": "indexof([0,8,16,24,32,40,52,60,68,76,88,100,112,124,136,148,160,172,184,196,208], datum.value) >= 0 ? datum.label : ''"}},
       "y": {"datum": -24.16, "type": "quantitative", "axis": {"title": "Response rate, % of patientsᶜ", "grid": true, "values": [0,10,20,30,40,50,60,70,80,90,100]}}, "text": {"field": "n"},
       "color": {"field": "key", "type": "nominal", "legend": null, "scale": {"domain": ["AO-pbo", "TFR-pbo", "mNRI-pbo", "AO", "TFR", "mNRI"], "range": ["#827b79", "#40464a", "#a9aeb1", "#00a2c7", "#5bc5e3", "#006f8e"]}}}},
    {"data": {"name": "table"}, "transform": [{"filter": "datum.method === 'mNRI'"}],
     "mark": {"type": "text", "align": "center", "baseline": "middle", "fontSize": 10.5},
     "encoding": {"x": {"field": "week", "type": "quantitative", "axis": {"title": "Study week", "grid": false, "values": [0,4,8,12,16,20,24,28,32,36,40,44,48,52,56,60,64,68,72,76,80,84,88,92,96,100,104,108,112,116,120,124,128,132,136,140,144,148,152,156,160,164,168,172,176,180,184,188,192,196,200,204,208], "labelExpr": "indexof([0,8,16,24,32,40,52,60,68,76,88,100,112,124,136,148,160,172,184,196,208], datum.value) >= 0 ? datum.label : ''"}},
       "y": {"datum": -29.36, "type": "quantitative", "axis": {"title": "Response rate, % of patientsᶜ", "grid": true, "values": [0,10,20,30,40,50,60,70,80,90,100]}}, "text": {"field": "n"},
       "color": {"field": "key", "type": "nominal", "legend": null, "scale": {"domain": ["AO-pbo", "TFR-pbo", "mNRI-pbo", "AO", "TFR", "mNRI"], "range": ["#827b79", "#40464a", "#a9aeb1", "#00a2c7", "#5bc5e3", "#006f8e"]}}}},
    {"data": {"values": [{}]}, "mark": {"type": "text", "text": "ᵃTFR analysis captures discontinuations coded as “lack of efficacy.” ᵇFor mNRI analyses, at timepoints where there were no missing data, 95% CI was obtained using the Clopper-Pearson method based on the observed data. ᶜData callouts", "align": "left", "baseline": "middle", "font": "Liberation Sans", "fontSize": 10.7, "color": "#222222"},
     "encoding": {"x": {"datum": -21.44, "type": "quantitative", "axis": {"title": "Study week", "grid": false, "values": [0,4,8,12,16,20,24,28,32,36,40,44,48,52,56,60,64,68,72,76,80,84,88,92,96,100,104,108,112,116,120,124,128,132,136,140,144,148,152,156,160,164,168,172,176,180,184,188,192,196,200,204,208], "labelExpr": "indexof([0,8,16,24,32,40,52,60,68,76,88,100,112,124,136,148,160,172,184,196,208], datum.value) >= 0 ? datum.label : ''"}},
       "y": {"datum": -41.6, "type": "quantitative", "axis": {"title": "Response rate, % of patientsᶜ", "grid": true, "values": [0,10,20,30,40,50,60,70,80,90,100]}}}},
    {"data": {"values": [{}]}, "mark": {"type": "text", "text": "represent the response rate (95% CI).", "align": "left", "baseline": "middle", "font": "Liberation Sans", "fontSize": 10.7, "color": "#222222"},
     "encoding": {"x": {"datum": -21.44, "type": "quantitative", "axis": {"title": "Study week", "grid": false, "values": [0,4,8,12,16,20,24,28,32,36,40,44,48,52,56,60,64,68,72,76,80,84,88,92,96,100,104,108,112,116,120,124,128,132,136,140,144,148,152,156,160,164,168,172,176,180,184,188,192,196,200,204,208], "labelExpr": "indexof([0,8,16,24,32,40,52,60,68,76,88,100,112,124,136,148,160,172,184,196,208], datum.value) >= 0 ? datum.label : ''"}},
       "y": {"datum": -45.57, "type": "quantitative", "axis": {"title": "Response rate, % of patientsᶜ", "grid": true, "values": [0,10,20,30,40,50,60,70,80,90,100]}}}},
    {"data": {"values": [{}]}, "mark": {"type": "text", "text": "CI, confidence interval; LTE, long-term extension; mNRI, modified nonresponder imputation; sPGA 0/1, static Physician Global Assessment score of 0 (clear) or 1 (almost clear); TFR, treatment failure rules.", "align": "left", "baseline": "middle", "font": "Liberation Sans", "fontSize": 10.7, "color": "#222222"},
     "encoding": {"x": {"datum": -21.44, "type": "quantitative", "axis": {"title": "Study week", "grid": false, "values": [0,4,8,12,16,20,24,28,32,36,40,44,48,52,56,60,64,68,72,76,80,84,88,92,96,100,104,108,112,116,120,124,128,132,136,140,144,148,152,156,160,164,168,172,176,180,184,188,192,196,200,204,208], "labelExpr": "indexof([0,8,16,24,32,40,52,60,68,76,88,100,112,124,136,148,160,172,184,196,208], datum.value) >= 0 ? datum.label : ''"}},
       "y": {"datum": -49.54, "type": "quantitative", "axis": {"title": "Response rate, % of patientsᶜ", "grid": true, "values": [0,10,20,30,40,50,60,70,80,90,100]}}}}
  ]
}
